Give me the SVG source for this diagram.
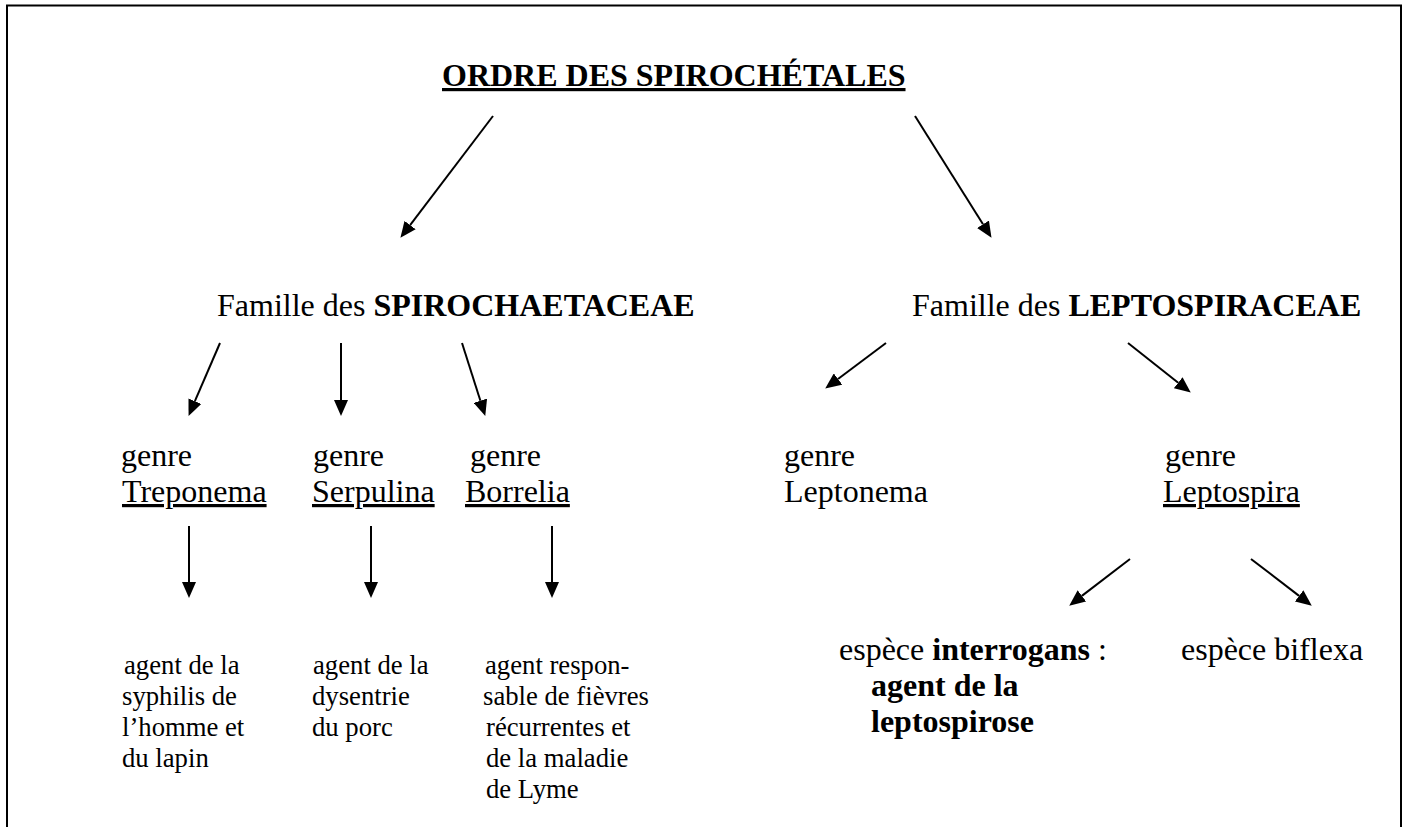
<svg xmlns="http://www.w3.org/2000/svg" width="1406" height="827" viewBox="0 0 1406 827">
<style>
text{font-family:"Liberation Serif","Times New Roman",serif;fill:#000}
.t32{font-size:32px}
.t27{font-size:26.7px}
.b{font-weight:bold}
.u{text-decoration:underline}
.frame{fill:none;stroke:#000;stroke-width:2}
.arr{stroke:#000;stroke-width:2;fill:none;marker-end:url(#ah)}
</style>
<defs>
<marker id="ah" markerUnits="userSpaceOnUse" markerWidth="16" markerHeight="14" refX="0" refY="7" orient="auto" viewBox="0 0 16 14">
<path d="M0,0 L16,7 L0,14 z" fill="#000"/>
</marker>
</defs>
<rect width="1406" height="827" fill="#fff"/>
<path class="frame" d="M7,827 L7,5.5 L1401,5.5 L1401,827"/>

<g id="title"><text class="t32 b u" x="442" y="86">ORDRE DES SPIROCHÉTALES</text></g>

<g id="fam-spiro"><text class="t32" x="217" y="316">Famille des <tspan class="b">SPIROCHAETACEAE</tspan></text></g>
<g id="fam-lepto"><text class="t32" x="912" y="316">Famille des <tspan class="b">LEPTOSPIRACEAE</tspan></text></g>

<g id="genre-treponema"><text class="t32" x="121" y="466">genre</text><text class="t32 u" x="122" y="502">Treponema</text></g>
<g id="genre-serpulina"><text class="t32" x="313" y="466">genre</text><text class="t32 u" x="312" y="502">Serpulina</text></g>
<g id="genre-borrelia"><text class="t32" x="470" y="466">genre</text><text class="t32 u" x="465" y="502">Borrelia</text></g>
<g id="genre-leptonema"><text class="t32" x="784" y="466">genre</text><text class="t32" x="784" y="502">Leptonema</text></g>
<g id="genre-leptospira"><text class="t32" x="1165" y="466">genre</text><text class="t32 u" x="1163" y="502">Leptospira</text></g>

<g id="agent-treponema">
<text class="t27" x="124" y="674">agent de la</text>
<text class="t27" x="122" y="705">syphilis de</text>
<text class="t27" x="122" y="736">l’homme et</text>
<text class="t27" x="122" y="767">du lapin</text>
</g>
<g id="agent-serpulina">
<text class="t27" x="313" y="674">agent de la</text>
<text class="t27" x="312" y="705">dysentrie</text>
<text class="t27" x="312" y="736">du porc</text>
</g>
<g id="agent-borrelia">
<text class="t27" x="485" y="674">agent respon-</text>
<text class="t27" x="483" y="705">sable de fièvres</text>
<text class="t27" x="486" y="736">récurrentes et</text>
<text class="t27" x="486" y="767">de la maladie</text>
<text class="t27" x="486" y="798">de Lyme</text>
</g>

<g id="espece-interrogans">
<text class="t32" x="839" y="660">espèce <tspan class="b">interrogans</tspan> :</text>
<text class="t32 b" x="871" y="696">agent de la</text>
<text class="t32 b" x="871" y="732">leptospirose</text>
</g>
<g id="espece-biflexa"><text class="t32" x="1181" y="660">espèce biflexa</text></g>

<g id="connectors">
<line class="arr" x1="493" y1="116" x2="410.1" y2="225.1"/>
<line class="arr" x1="915" y1="116" x2="983" y2="224.3"/>
<line class="arr" x1="220" y1="343" x2="194.9" y2="401.2"/>
<line class="arr" x1="341" y1="343" x2="341" y2="400"/>
<line class="arr" x1="462" y1="343" x2="480.4" y2="400.7"/>
<line class="arr" x1="886" y1="343" x2="838" y2="379"/>
<line class="arr" x1="1128" y1="343" x2="1178.2" y2="382.7"/>
<line class="arr" x1="189" y1="526" x2="189" y2="582"/>
<line class="arr" x1="371" y1="526" x2="371" y2="582"/>
<line class="arr" x1="552" y1="526" x2="552" y2="582"/>
<line class="arr" x1="1130" y1="559" x2="1081.9" y2="595.9"/>
<line class="arr" x1="1251" y1="559" x2="1299.1" y2="595.9"/>
</g>
</svg>
